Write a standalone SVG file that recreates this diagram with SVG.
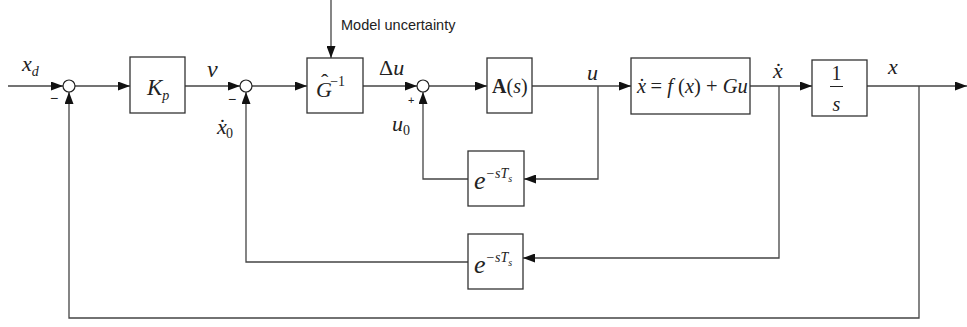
<svg xmlns="http://www.w3.org/2000/svg" width="967" height="327" viewBox="0 0 967 327">
<style>
.box{fill:#fff;stroke:#333;stroke-width:1.3}
.sum{fill:#fff;stroke:#222;stroke-width:1.2}
.ln{fill:none;stroke:#444;stroke-width:1.3}
.m{font-family:"Liberation Serif","Times New Roman",serif;font-style:italic;fill:#222}
.r{font-family:"Liberation Serif","Times New Roman",serif;fill:#222}
.s{font-family:"Liberation Sans",Arial,sans-serif;fill:#222}
</style>
<defs>
<marker id="ah" markerWidth="12" markerHeight="9" refX="12" refY="4.5" orient="auto" markerUnits="userSpaceOnUse">
<path d="M0,0 L12,4.5 L0,9 Z" fill="#111"/>
</marker>
</defs>
<rect width="967" height="327" fill="#fff"/>
<g id="connectors">
<line class="ln" x1="8" y1="86" x2="63" y2="86" marker-end="url(#ah)"/>
<line class="ln" x1="75" y1="86" x2="130" y2="86" marker-end="url(#ah)"/>
<line class="ln" x1="185" y1="86" x2="240" y2="86" marker-end="url(#ah)"/>
<line class="ln" x1="252" y1="86" x2="307" y2="86" marker-end="url(#ah)"/>
<line class="ln" x1="331" y1="0" x2="331" y2="58" marker-end="url(#ah)"/>
<line class="ln" x1="363" y1="86" x2="417" y2="86" marker-end="url(#ah)"/>
<line class="ln" x1="429" y1="86" x2="487" y2="86" marker-end="url(#ah)"/>
<line class="ln" x1="532" y1="86" x2="631" y2="86" marker-end="url(#ah)"/>
<line class="ln" x1="750" y1="86" x2="812" y2="86" marker-end="url(#ah)"/>
<line class="ln" x1="867" y1="86" x2="967" y2="86" marker-end="url(#ah)"/>
<polyline class="ln" points="598,86 598,179 524,179" marker-end="url(#ah)"/>
<polyline class="ln" points="468,179 423,179 423,92" marker-end="url(#ah)"/>
<polyline class="ln" points="779,86 779,258 523,258" marker-end="url(#ah)"/>
<polyline class="ln" points="468,262 246,262 246,92" marker-end="url(#ah)"/>
<polyline class="ln" points="919,86 919,318 69,318 69,92" marker-end="url(#ah)"/>
</g>
<g id="sum1"><circle class="sum" cx="69" cy="86" r="6"/><text class="s" x="50" y="103" font-size="14">−</text></g>
<g id="sum2"><circle class="sum" cx="246" cy="86" r="6"/><text class="s" x="228" y="104" font-size="14">−</text></g>
<g id="sum3"><circle class="sum" cx="423" cy="86" r="6"/><text class="s" x="408" y="104" font-size="11">+</text></g>
<g id="Kp"><rect class="box" x="130" y="57" width="55" height="56"/><text class="m" x="147" y="95" font-size="23">K<tspan font-size="14" dy="5">p</tspan></text></g>
<g id="Ginv"><rect class="box" x="307" y="58" width="56" height="55"/><text class="m" x="316" y="97" font-size="22">G<tspan class="r" font-style="normal" dx="-11" dy="-8">ˆ</tspan><tspan font-style="normal" font-size="14" dx="2" dy="-3">−1</tspan></text></g>
<g id="As"><rect class="box" x="487" y="58" width="45" height="55"/><text class="r" x="492" y="93" font-size="20"><tspan font-weight="bold">A</tspan>(<tspan font-style="italic">s</tspan>)</text></g>
<g id="plant"><rect class="box" x="631" y="58" width="119" height="56"/><text class="m" x="637" y="93" font-size="20.5">x<tspan font-style="normal" dx="-7.5">˙</tspan><tspan font-style="normal"> = </tspan>f<tspan font-style="normal"> (</tspan>x<tspan font-style="normal">) + </tspan>Gu</text></g>
<g id="integrator"><rect class="box" x="812" y="60" width="55" height="56"/><text class="r" x="836.5" y="80" font-size="20" text-anchor="middle">1</text><line x1="830" y1="86.5" x2="843" y2="86.5" stroke="#222" stroke-width="1"/><text class="m" x="836.5" y="111" font-size="20" text-anchor="middle">s</text></g>
<g id="delay1"><rect class="box" x="468" y="151" width="56" height="55"/><text class="m" x="474" y="189" font-size="26">e<tspan font-size="14" dy="-11">−sT</tspan><tspan font-size="10" dy="4">s</tspan></text></g>
<g id="delay2"><rect class="box" x="468" y="234" width="55" height="55"/><text class="m" x="474" y="273" font-size="26">e<tspan font-size="14" dy="-11">−sT</tspan><tspan font-size="10" dy="4">s</tspan></text></g>
<g id="labels">
<text class="s" x="341" y="30" font-size="14.5">Model uncertainty</text>
<text class="m" x="22" y="71" font-size="22">x<tspan font-size="14" dy="5">d</tspan></text>
<text class="m" x="207" y="77" font-size="24">ν</text>
<text class="m" x="217" y="134" font-size="22">x<tspan class="r" font-style="normal" dx="-8">˙</tspan><tspan class="r" font-style="normal" font-size="14" dx="0" dy="4">0</tspan></text>
<text class="m" x="379" y="75" font-size="22"><tspan font-style="normal">Δ</tspan>u</text>
<text class="m" x="392" y="131" font-size="22">u<tspan font-style="normal" font-size="14" dy="4">0</tspan></text>
<text class="m" x="587" y="80" font-size="22">u</text>
<text class="m" x="773" y="78" font-size="22">x<tspan font-style="normal" dx="-8">˙</tspan></text>
<text class="m" x="888" y="74" font-size="22">x</text>
</g>
</svg>
